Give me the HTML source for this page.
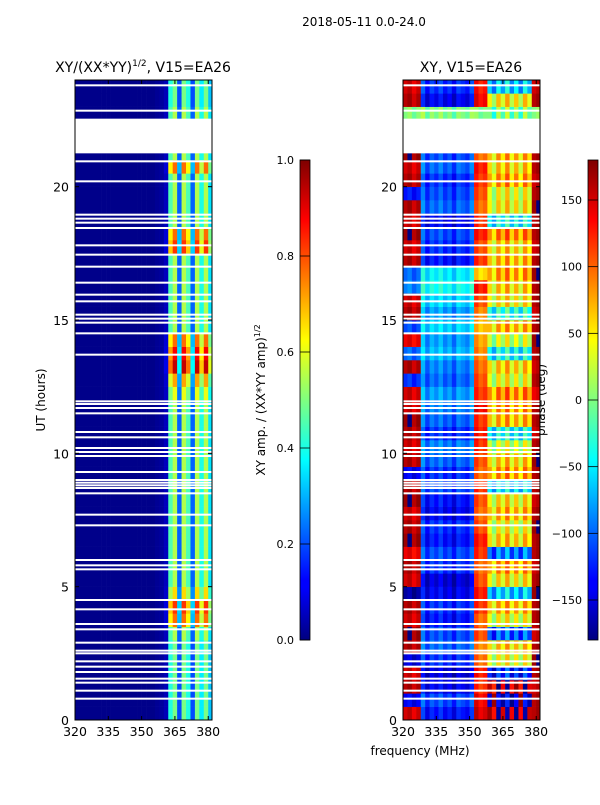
<!DOCTYPE html>
<html><head><meta charset="utf-8"><style>
body{margin:0;background:#fff;}
svg text{font-family:"DejaVu Sans","Liberation Sans",sans-serif;fill:#000;}
</style></head><body>
<svg id="fig" width="600" height="800" xmlns="http://www.w3.org/2000/svg">
<defs>
<linearGradient id="jet" x1="0" y1="1" x2="0" y2="0">
<stop offset="0" stop-color="#00007f"/><stop offset="0.11" stop-color="#0000ff"/>
<stop offset="0.125" stop-color="#0000ff"/><stop offset="0.375" stop-color="#00ffff"/>
<stop offset="0.625" stop-color="#ffff00"/><stop offset="0.875" stop-color="#ff0000"/>
<stop offset="1" stop-color="#7f0000"/>
</linearGradient>
</defs>
<text x="364" y="26" font-size="12" text-anchor="middle">2018-05-11 0.0-24.0</text>
<text x="143" y="72" font-size="14" text-anchor="middle">XY/(XX*YY)<tspan font-size="9" dy="-6">1/2</tspan><tspan dy="6">, V15=EA26</tspan></text>
<text x="471" y="72" font-size="14" text-anchor="middle">XY, V15=EA26</text>
<text transform="translate(45,400) rotate(-90)" font-size="12" text-anchor="middle">UT (hours)</text>
<text x="420" y="755" font-size="12" text-anchor="middle">frequency (MHz)</text>
<text transform="translate(265,400) rotate(-90)" font-size="12" text-anchor="middle">XY amp. / (XX*YY amp)<tspan font-size="8" dy="-5">1/2</tspan></text>
<text transform="translate(545,400) rotate(-90)" font-size="12" text-anchor="middle">phase (deg)</text>
<g id="left"></g>
<g id="right"></g>
<g id="axes"></g>
</svg>
<script>
const NS="http://www.w3.org/2000/svg";
// ---- data ----
const freqStart=320, chanWidth=2, nChan=31;
const hourStep=0.5;
const ampCols=[0.01,0.01,0.01,0.01,0.01,0.01,0.01,0.01,0.01,0.01,0.01,0.01,0.01,0.01,0.01,0.01,0.01,0.01,0.02,0.03,0.06,0.45,0.55,0.22,0.55,0.45,0.22,0.55,0.4,0.55,0.35];
const rowGain=[0.9,0.9,0.9,0.9,0.9,0.9,1.0,1.4,1.5,1.2,1.0,1.0,1.0,1.0,1.0,1.0,1.0,1.0,1.0,1.0,1.0,1.0,1.0,1.0,1.1,1.3,1.7,1.6,1.4,1.0,1.0,1.0,1.0,1.0,1.0,1.5,1.4,1.0,1.0,1.0,1.0,1.4,1.0,1.0,1.0,1.0,0.9,0.9];
const chanZone=[0,0,0,0,1,1,1,1,1,1,1,1,1,1,1,1,2,2,2,3,3,3,3,3,3,3,3,3,3,4,4];
const phaseZ0=[150,-140,160,150,-150,160,170,150,160,-170,150,160,140,170,160,150,170,160,-140,160,150,160,170,150,150,-120,160,-100,140,-110,160,150,-90,-100,160,150,170,150,160,-130,160,150,170,-100,0,0,160,150];
const phaseZ1=[-130,-110,-140,-150,-120,-100,-110,-130,-120,-140,-150,-120,-110,-130,-120,-140,-130,-110,-120,-100,-90,-120,-100,-90,-80,-100,-90,-70,-80,-60,-80,-60,-40,-50,-130,-120,-110,-140,-100,-110,-120,-100,-110,-130,0,0,-140,-120];
const phaseZ2=[150,140,120,130,100,90,110,100,120,130,110,100,120,130,110,100,110,120,100,110,120,130,120,140,120,110,100,90,80,70,90,110,130,60,120,110,130,120,100,110,120,130,100,80,0,0,140,130];
const phaseZ3=[170,-150,160,-120,40,60,-100,40,70,-60,50,80,-90,60,40,70,50,-50,80,60,30,-40,70,80,90,40,60,-40,30,70,-30,50,60,80,70,60,90,-40,50,40,80,60,70,-100,0,0,50,-60];
const phaseZ4=[160,160,150,160,170,160,150,160,160,170,160,150,160,160,170,160,150,160,160,170,160,150,160,160,140,160,150,160,170,160,150,160,160,170,160,150,160,160,170,160,150,160,160,170,0,0,160,150];
const chanOffset=[0,10,-10,5,20,-15,10,-5,15,-10,5,-20,10,0,-10,15,10,-10,0,0,-40,20,-20,30,-30,15,-35,25,-15,0,10];
const flagHours=[23.8,22.85,20.95,20.2,18.95,18.8,18.65,18.45,17.8,17.45,17.0,16.4,15.95,15.7,15.2,15.05,14.9,14.5,13.7,11.95,11.85,11.7,11.5,10.8,10.6,10.2,10.05,9.9,9.3,9.0,8.9,8.8,8.7,8.5,7.7,7.3,6.0,5.8,5.65,4.5,4.15,3.6,3.4,2.9,2.6,2.5,2.2,2.0,1.8,1.55,1.4,1.1,0.8];
const gapStart=21.25, gapEnd=22.55;
const xTicks=[320,335,350,365,380];
const yTicks=[0,5,10,15,20];
const ampTicks=[0.0,0.2,0.4,0.6,0.8,1.0];
const phaseTicks=[-150,-100,-50,0,50,100,150];
// ---- scales ----
const panels=[{id:'left',x0:75},{id:'right',x0:403}];
const pw=137, yTop=80, yBot=720;
const fMin=320, fMax=381.7;
function xs(x0,f){return x0+(f-fMin)/(fMax-fMin)*pw;}
function ys(h){return yBot-h/24*(yBot-yTop);}
function jet(v){v=Math.max(0,Math.min(1,v));
 const c=t=>Math.round(255*Math.max(0,Math.min(1,t)));
 const r=c(Math.min(4*v-1.5,-4*v+4.5)),g=c(Math.min(4*v-0.5,-4*v+3.5)),b=c(Math.min(4*v+0.5,-4*v+2.5));
 return `rgb(${r},${g},${b})`;}
const phaseZones=[phaseZ0,phaseZ1,phaseZ2,phaseZ3,phaseZ4];
function mk(tag,attrs,parent){const e=document.createElementNS(NS,tag);for(const k in attrs)e.setAttribute(k,attrs[k]);parent.appendChild(e);return e;}
const nRows=rowGain.length;
panels.forEach((p,pi)=>{
 const g=document.getElementById(p.id);
 for(let r=0;r<nRows;r++){
  for(let c=0;c<nChan;c++){
   let v;
   if(pi===0){v=ampCols[c]*(c>=20?rowGain[r]:1);}
   else{let ph=phaseZones[chanZone[c]][r]+chanOffset[c];ph=((ph+180)%360+360)%360-180;v=(ph+180)/360;}
   const f0=freqStart+c*chanWidth, f1=Math.min(fMax,f0+chanWidth);
   const x=xs(p.x0,f0), w=xs(p.x0,f1)-x;
   const y=ys((r+1)*hourStep), h=ys(r*hourStep)-y;
   const el=mk('rect',{x:x.toFixed(2),y:y.toFixed(2),width:(w+0.3).toFixed(2),height:(h+0.3).toFixed(2),fill:jet(v)},g);
   
   
  }
 }
 flagHours.forEach(hh=>{
  const el=mk('rect',{x:p.x0,y:(ys(hh)-1).toFixed(2),width:pw,height:2,fill:'#fff'},g);
  
  
 });
 const gap=mk('rect',{x:p.x0,y:ys(gapEnd),width:pw,height:ys(gapStart)-ys(gapEnd),fill:'#fff'},g);
 
 
 const ax=document.getElementById('axes');
 const fr=mk('rect',{x:p.x0,y:yTop,width:pw,height:yBot-yTop,fill:'none',stroke:'#000','stroke-width':1},ax);
 
 
 xTicks.forEach(t=>{const x=xs(p.x0,t);
  mk('line',{x1:x,x2:x,y1:yBot,y2:yBot-4,stroke:'#000'},ax);mk('line',{x1:x,x2:x,y1:yTop,y2:yTop+4,stroke:'#000'},ax);
  const tx=mk('text',{x:x,y:yBot+16,'font-size':12.5,'text-anchor':'middle'},ax);tx.textContent=t;
  
  });
 yTicks.forEach(t=>{const y=ys(t);
  mk('line',{x1:p.x0,x2:p.x0+4,y1:y,y2:y,stroke:'#000'},ax);mk('line',{x1:p.x0+pw,x2:p.x0+pw-4,y1:y,y2:y,stroke:'#000'},ax);
  const tx=mk('text',{x:p.x0-6,y:y+5,'font-size':12.5,'text-anchor':'end'},ax);tx.textContent=t;
  
  });
});
const cbs=[{x:300,ticks:ampTicks,min:0,max:1,fmt:t=>t.toFixed(1),name:'amp-colorbar'},{x:588,ticks:phaseTicks,min:-180,max:180,fmt:t=>t<0?'\u2212'+(-t):String(t),name:'phase-colorbar'}];
const ax=document.getElementById('axes');
cbs.forEach(cb=>{
 const r=mk('rect',{x:cb.x,y:160,width:10,height:480,fill:'url(#jet)',stroke:'#000','stroke-width':0.8},ax);
 
 
 cb.ticks.forEach(t=>{const y=640-(t-cb.min)/(cb.max-cb.min)*480;
  mk('line',{x1:cb.x,x2:cb.x+10,y1:y,y2:y,stroke:'#000','stroke-width':0.8},ax);
  const tx=mk('text',{x:cb.x-6,y:y+4,'font-size':11,'text-anchor':'end'},ax);tx.textContent=cb.fmt(t);
  
  });
});
</script>
</body></html>
